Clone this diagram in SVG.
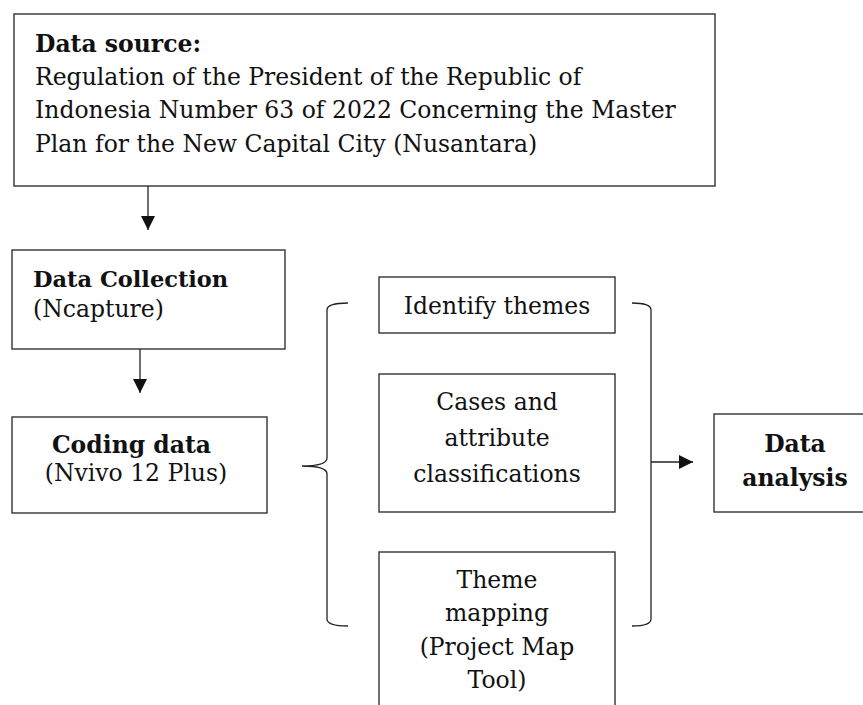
<svg xmlns="http://www.w3.org/2000/svg" width="863" height="705" viewBox="0 0 863 705">
<style>
.box{fill:#fff;stroke:#333;stroke-width:1.4}
.t{font-family:"DejaVu Serif","Liberation Serif",serif;font-size:23.5px;fill:#111}
.b{font-weight:bold}
.c{text-anchor:middle}
.ln{fill:none;stroke:#222;stroke-width:1.3}
</style>
<defs>
<marker id="ah" markerWidth="14" markerHeight="16" refX="14" refY="7" orient="auto" markerUnits="userSpaceOnUse">
<path d="M0,0 L14,7 L0,14 Z" fill="#111"/>
</marker>
</defs>
<rect width="863" height="705" fill="#fff"/>
<g id="source">
<rect class="box" x="14" y="14" width="701" height="172"/>
<text class="t b" x="35" y="52">Data source:</text>
<text class="t" x="35" y="85">Regulation of the President of the Republic of</text>
<text class="t" x="35" y="118">Indonesia Number 63 of 2022 Concerning the Master</text>
<text class="t" x="35" y="152">Plan for the New Capital City (Nusantara)</text>
</g>
<g id="collection">
<rect class="box" x="12" y="250" width="273" height="99"/>
<text class="t b" x="33" y="287" style="font-size:22.5px">Data Collection</text>
<text class="t" x="33" y="317">(Ncapture)</text>
</g>
<g id="coding">
<rect class="box" x="12" y="417" width="255" height="96"/>
<text class="t b c" x="131.5" y="453">Coding data</text>
<text class="t c" x="136" y="481">(Nvivo 12 Plus)</text>
</g>
<g id="identify">
<rect class="box" x="379" y="277" width="236" height="56"/>
<text class="t c" x="497" y="314">Identify themes</text>
</g>
<g id="cases">
<rect class="box" x="379" y="374" width="236" height="138"/>
<text class="t c" x="497" y="410">Cases and</text>
<text class="t c" x="497" y="446">attribute</text>
<text class="t c" x="497" y="482">classifications</text>
</g>
<g id="mapping">
<rect class="box" x="379" y="552" width="236" height="170"/>
<text class="t c" x="497" y="588">Theme</text>
<text class="t c" x="497" y="621">mapping</text>
<text class="t c" x="497" y="655">(Project Map</text>
<text class="t c" x="497" y="688">Tool)</text>
</g>
<g id="analysis">
<rect class="box" x="714" y="414" width="162" height="98"/>
<text class="t b c" x="795" y="452">Data</text>
<text class="t b c" x="795" y="486">analysis</text>
</g>
<g id="connectors">
<line class="ln" x1="148" y1="186" x2="148" y2="230" marker-end="url(#ah)"/>
<line class="ln" x1="140" y1="349" x2="140" y2="393" marker-end="url(#ah)"/>
<path class="ln" d="M348,303 Q327,303 327,310 L327,458 Q327,466 302,466 Q327,466 327,474 L327,619 Q327,626 348,626"/>
<path class="ln" d="M632,303 Q651,303 651,310 L651,619 Q651,626 632,626"/>
<line class="ln" x1="651" y1="462" x2="693" y2="462" stroke-width="2.2" marker-end="url(#ah)"/>
</g>
</svg>
